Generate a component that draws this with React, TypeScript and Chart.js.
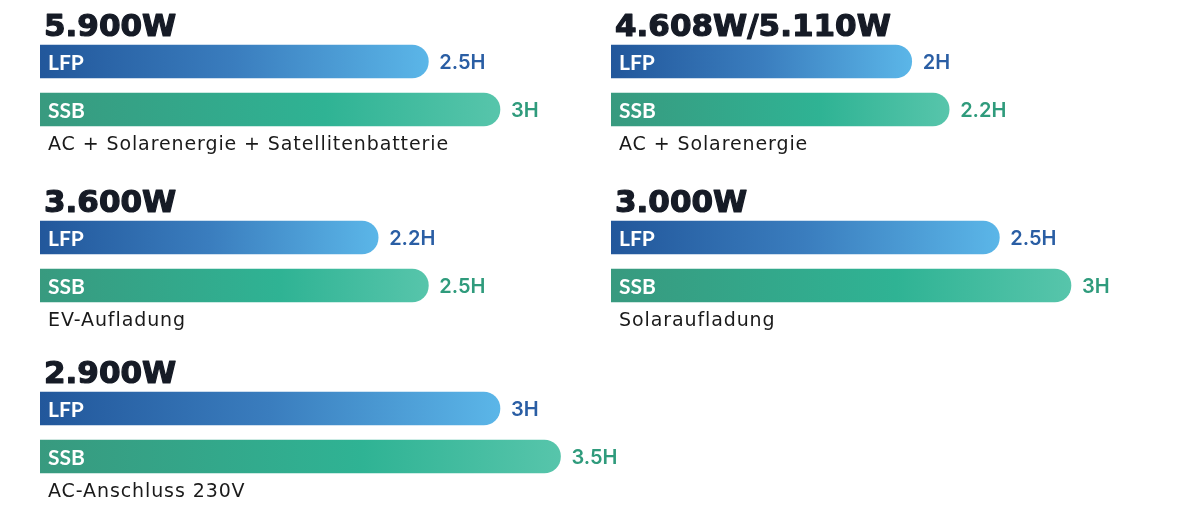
import React, { useEffect, useRef } from 'react';
import { Chart, registerables } from 'chart.js';

Chart.register(...registerables);

// ---- data ----
const categories = ['LFP', 'SSB'];
const powerTitles = ['5.900W', '4.608W/5.110W', '3.600W', '3.000W', '2.900W'];
const captions = [
  'AC + Solarenergie + Satellitenbatterie',
  'AC + Solarenergie',
  'EV-Aufladung',
  'Solaraufladung',
  'AC-Anschluss 230V',
];
const lfpHours = [2.5, 2, 2.2, 2.5, 3];
const ssbHours = [3, 2.2, 2.5, 3, 3.5];

// ---- layout / style ----
const panelLeft = [40, 611, 40, 611, 40];
const panelTop = [5, 5, 181, 181, 352];
const AREA_W = 563;
const PAD_RIGHT = 8;
const EXTRA_W = [60, PAD_RIGHT, 60, PAD_RIGHT, 60];
const PANEL_H = 158;
const lfpStops: [number, string][] = [
  [0, '#22579b'],
  [0.5, '#3a7dbe'],
  [1, '#5bb6e8'],
];
const ssbStops: [number, string][] = [
  [0, '#389a7f'],
  [0.62, '#2fb394'],
  [1, '#57c5ab'],
];
const valueColors = ['#2a5ea4', '#2f9b7c'];

const textPlugin = {
  id: 'groupText',
  afterDatasetsDraw(chart: any, _args: any, opts: any) {
    const ctx = chart.ctx as CanvasRenderingContext2D;
    const meta = chart.getDatasetMeta(0);
    const ds = chart.data.datasets[0];
    ctx.save();
    ctx.textBaseline = 'alphabetic';
    ctx.textAlign = 'left';
    ctx.fillStyle = '#161b26';
    ctx.strokeStyle = '#161b26';
    ctx.lineWidth = 1.2;
    ctx.lineJoin = 'round';
    ctx.font = 'bold 31px "DejaVu Sans"';
    ctx.fillText(opts.title, 4, 31);
    ctx.strokeText(opts.title, 4, 31);
    meta.data.forEach((bar: any, i: number) => {
      const { x, y, base } = bar.getProps(['x', 'y', 'base'], true);
      ctx.font = 'bold 21px Lato';
      ctx.fillStyle = '#ffffff';
      ctx.fillText(chart.data.labels[i], base + 8, y + 8);
      ctx.font = '600 20px Inter';
      ctx.fillStyle = valueColors[i];
      ctx.fillText(`${ds.data[i]}H`, x + 11, y + 7.5);
    });
    ctx.font = '19px "DejaVu Sans"';
    (ctx as any).letterSpacing = '0.9px';
    ctx.fillStyle = '#1a1a1a';
    ctx.fillText(opts.caption, 8, 145);
    ctx.restore();
  },
};

function Panel({ idx }: { idx: number }) {
  const ref = useRef<HTMLCanvasElement>(null);
  const w = AREA_W + EXTRA_W[idx];
  useEffect(() => {
    if (!ref.current) return;
    const chart = new Chart(ref.current, {
      type: 'bar',
      data: {
        labels: categories,
        datasets: [
          {
            data: [lfpHours[idx], ssbHours[idx]],
            barThickness: 33,
            borderRadius: 20,
            borderSkipped: 'start',
            backgroundColor: (c: any) => {
              const stops = c.dataIndex === 0 ? lfpStops : ssbStops;
              const chart = c.chart;
              const area = chart.chartArea;
              if (!area || c.dataIndex === undefined) return stops[1][1];
              const v = c.dataset.data[c.dataIndex];
              const x1 = chart.scales.x.getPixelForValue(v);
              const g = chart.ctx.createLinearGradient(area.left, 0, x1, 0);
              stops.forEach(([o, col]) => g.addColorStop(o, col));
              return g;
            },
          },
        ],
      },
      options: {
        indexAxis: 'y',
        animation: false,
        responsive: false,
        layout: { padding: { top: 32.5, bottom: PANEL_H - 32.5 - 96, left: 0, right: EXTRA_W[idx] } },
        scales: {
          x: { type: 'logarithmic', min: 0.93, max: 3.9, bounds: 'data', display: false },
          y: { type: 'category', display: false },
        },
        plugins: {
          legend: { display: false },
          tooltip: { enabled: false },
          groupText: { title: powerTitles[idx], caption: captions[idx] },
        } as any,
      },
      plugins: [textPlugin],
    } as any);
    return () => chart.destroy();
  }, [idx]);
  return (
    <canvas
      ref={ref}
      width={w}
      height={PANEL_H}
      style={{ position: 'absolute', left: panelLeft[idx], top: panelTop[idx], width: w, height: PANEL_H }}
    />
  );
}

export default function App() {
  return (
    <div style={{ position: 'absolute', left: 0, top: 0, width: 1183, height: 510, background: '#ffffff', overflow: 'hidden' }}>
      {powerTitles.map((_, i) => (
        <Panel key={i} idx={i} />
      ))}
    </div>
  );
}
